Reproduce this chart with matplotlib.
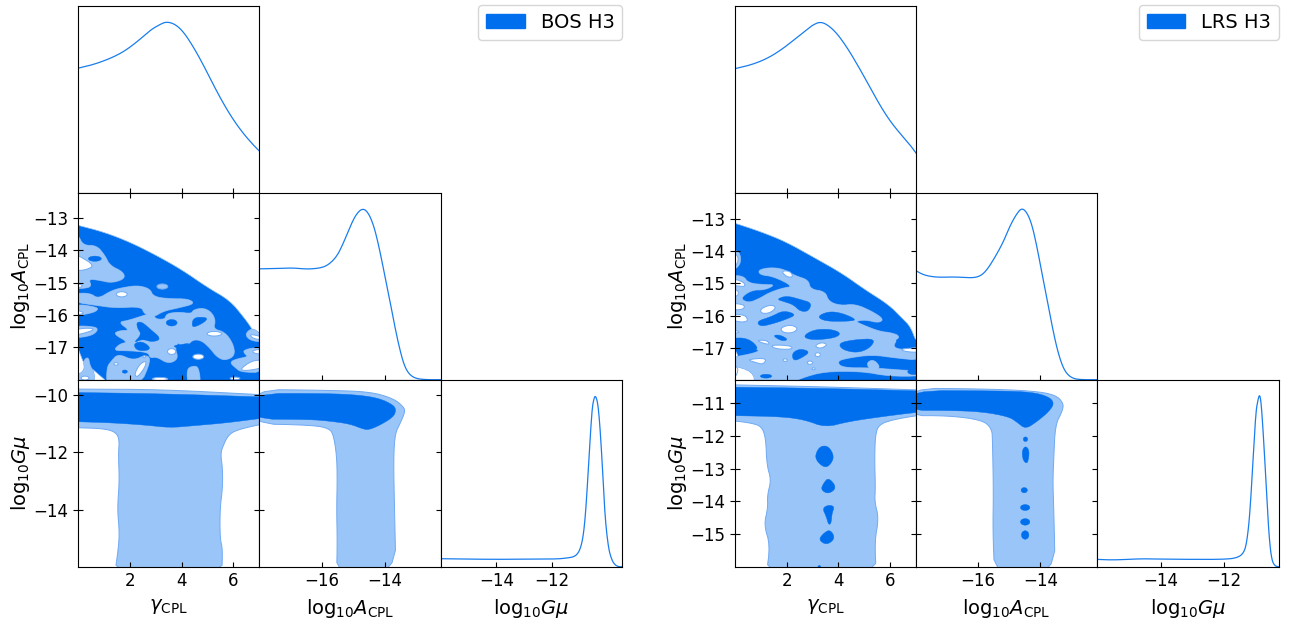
import numpy as np
import matplotlib
matplotlib.use("Agg")
import matplotlib.pyplot as plt
from matplotlib.patches import Ellipse, Patch

DARK = "#006FED"
LIGHT = "#99C5F8"
EDGE = "#6FAAF3"

# axis limits and ticks
gamma_lim = (0, 7)
gamma_ticks = [2, 4, 6]
logA_ticks_x = [-16, -14]
logA_ticks_y = [-17, -16, -15, -14, -13]
bos_logA_lim = (-18, -12.22)
lrs_logA_lim = (-18, -12.17)
bos_logG_lim = (-16, -9.46)
lrs_logG_lim = (-16, -10.28)
logG_ticks_x = [-14, -12]
bos_logG_ticks_y = [-14, -12, -10]
lrs_logG_ticks_y = [-15, -14, -13, -12, -11]

# 1D marginals, BOS
bos_gamma_x = [0, .59, 1.24, 1.75, 2.27, 2.78, 3.17, 3.42, 3.75, 4.07, 4.45, 4.84, 5.23, 5.61, 6.0, 6.38, 6.77, 7]
bos_gamma_p = [.732, .753, .789, .828, .886, .955, .99, 1.005, .99, .945, .857, .75, .632, .524, .427, .348, .28, .245]
bos_logA_x = [-18, -17.45, -16.92, -16.5, -16.07, -15.81, -15.54, -15.33, -15.12, -14.91, -14.7, -14.51, -14.33,
              -14.17, -14.01, -13.85, -13.69, -13.53, -13.38, -13.22, -13.01, -12.69, -12.22]
bos_logA_p = [.652, .654, .658, .65, .656, .674, .723, .801, .898, .977, 1.01, .977, .889, .762, .615, .469, .313,
              .176, .078, .029, .006, 0, 0]
bos_logG_x = [-16, -15.19, -13.99, -12.79, -11.82, -11.46, -11.16, -10.98, -10.86, -10.77, -10.67, -10.56, -10.5,
              -10.43, -10.34, -10.26, -10.16, -10.08, -9.96, -9.84, -9.72, -9.6, -9.46]
bos_logG_p = [.047, .045, .043, .045, .045, .051, .059, .098, .186, .343, .618, .912, .98, 1.01, .961, .814, .539,
              .284, .108, .039, .01, 0, 0]

# 1D marginals, LRS
lrs_gamma_x = [0, .6, 1.2, 1.75, 2.3, 2.8, 3.0, 3.3, 3.6, 3.95, 4.35, 4.8, 5.2, 5.6, 6.0, 6.4, 6.8, 7]
lrs_gamma_p = [.729, .75, .785, .835, .9, .96, .985, 1.005, .985, .935, .85, .735, .625, .515, .42, .345, .275, .233]
lrs_logA_x = [-18, -17.81, -17.59, -17.27, -16.74, -16.2, -15.93, -15.72, -15.45, -15.19, -14.97, -14.76, -14.6,
              -14.44, -14.28, -14.12, -13.96, -13.79, -13.63, -13.47, -13.31, -13.15, -12.94, -12.67, -12.17]
lrs_logA_p = [.641, .621, .609, .602, .605, .598, .609, .645, .723, .811, .908, .977, 1.01, .986, .918, .791, .635,
              .479, .322, .186, .088, .033, .006, 0, 0]
lrs_logG_x = [-16, -15.48, -14.64, -14.12, -13.07, -12.02, -11.6, -11.39, -11.29, -11.19, -11.08, -11.0, -10.93,
              -10.88, -10.83, -10.75, -10.66, -10.58, -10.5, -10.4, -10.28]
lrs_logG_p = [.043, .039, .047, .045, .043, .043, .051, .078, .137, .304, .657, .912, .986, 1.015, .961, .735, .422,
              .167, .039, .004, 0]

# BOS gamma - logA contours
bos_ga_outer = [(-.3, -13.17), (0, -13.23), (1, -13.44), (2, -13.75), (3, -14.15), (4, -14.6), (5, -15.15),
                (5.86, -15.55), (6.4, -16.07), (6.7, -16.4), (7, -16.85), (7.3, -17.2), (7.3, -18.4), (-.3, -18.4)]
bos_ga_light = [
    [(-.2, -13.5), (0, -13.54), (.19, -13.85), (.71, -13.85), (1.03, -14.16), (1.22, -14.47), (1.74, -14.67),
     (1.8, -14.88), (1.29, -15.01), (.84, -14.93), (.39, -14.88), (.52, -15.12), (.2, -15.18), (-.2, -15.18)],
    [(.45, -15.32), (.77, -15.5), (1.29, -15.24), (1.8, -15.14), (2.32, -15.09), (2.77, -15.19), (2.9, -15.43),
     (3.48, -15.5), (4.25, -15.5), (4.51, -15.65), (3.87, -15.78), (3.29, -15.88), (2.9, -16.07), (2.54, -15.96),
     (2.45, -15.74), (1.42, -15.78), (.77, -15.71), (-.2, -15.6), (-.2, -15.34)],
    [(1.93, -16.17), (2.51, -16.02), (2.96, -15.91), (2.94, -16.12), (3.35, -16.14), (3.41, -15.96), (3.87, -15.91),
     (4.38, -15.96), (4.45, -15.84), (4.83, -15.78), (5.15, -15.91), (5.31, -16.17), (5.22, -16.43), (5.67, -16.53),
     (5.99, -16.89), (6.06, -17.26), (5.67, -17.41), (5.35, -17.29), (5.09, -17.02), (4.77, -16.79), (4.45, -16.76),
     (4.25, -16.91), (3.93, -16.95), (3.87, -16.84), (3.74, -17.02), (3.87, -17.36), (3.48, -17.51), (3.03, -17.29),
     (2.77, -17.33), (2.71, -17.15), (1.93, -17.1), (1.35, -17.1), (1.61, -16.89), (1.93, -16.84), (1.35, -16.58),
     (1.61, -16.48), (2.0, -16.48), (1.55, -16.22)],
    [(-.2, -15.65), (.77, -15.76), (.71, -15.88), (.39, -15.96), (-.2, -16.04)],
    [(-.2, -16.33), (.64, -16.36), (.77, -16.46), (.52, -16.64), (-.2, -16.72)],
    [(1.1, -17.62), (1.29, -17.41), (1.55, -17.2), (2.13, -17.41), (2.64, -17.22), (2.81, -17.41), (2.38, -18.2), (1.1, -18.2)],
    [(.19, -17.41), (.39, -17.29), (.45, -17.57), (.64, -17.82), (.58, -18.2), (.13, -18.2), (-.2, -17.93), (.26, -17.72)],
    [(4.25, -18.2), (4.19, -17.67), (4.45, -17.57), (4.66, -17.62), (4.74, -18.2)],
    [(6.38, -17.1), (6.7, -17.02), (7.2, -17.02), (7.2, -17.77), (6.31, -17.77), (6.06, -17.62), (5.86, -17.46),
     (6.12, -17.36), (6.57, -17.29), (6.44, -17.2)],
    [(6.44, -16.58), (6.77, -16.38), (7.2, -16.74), (7.2, -16.84), (6.64, -16.79)],
    [(2.9, -17.93), (3.35, -17.93), (3.61, -18.2), (2.9, -18.2)],
    [(5.9, -18.2), (6.06, -17.93), (6.3, -18.2)],
]
bos_ga_dark = [
    [(2.26, -16.22), (2.47, -16.22), (2.77, -16.43), (3.22, -16.74), (2.86, -16.84), (2.47, -16.74), (2.13, -16.87),
     (2.45, -16.6), (2.28, -16.4)],
    [(2.13, -16.89), (2.45, -16.81), (2.77, -16.98), (2.71, -17.1), (2.26, -17.1)],
    [(4.38, -16.38), (4.45, -16.07), (4.96, -16.07), (4.96, -16.17), (4.64, -16.33)],
    [(3.67, -16.95), (3.99, -16.91), (4.32, -16.87), (4.12, -16.98), (3.8, -17.02)],
]
bos_ga_white = [
    [(-.2, -14.1), (0, -14.16), (.64, -14.47), (.26, -14.62), (-.2, -14.62)],
    [(-.2, -15.81), (.19, -15.91), (.19, -15.96), (-.2, -16.02)],
    [(-.2, -16.46), (.32, -16.4), (.64, -16.43), (.39, -16.53), (-.2, -16.64)],
    [(2.16, -17.84), (2.38, -17.51), (2.64, -17.41), (2.58, -17.62), (2.29, -17.93)],
    [(6.22, -17.7), (6.7, -17.41), (7.2, -17.39), (7.2, -17.62), (6.57, -17.72)],
    [(6.7, -17.1), (7.2, -17.04), (7.2, -17.2), (6.83, -17.2)],
    [(6.6, -16.58), (7.2, -16.69), (7.2, -16.77), (6.77, -16.74)],
]
# small round islands: centre x, centre y, half width, half height
bos_ga_light_dots = [(3.25, -15.12, .21, .08)]
bos_ga_dark_dots = [(3.61, -16.24, .21, .1), (.64, -14.26, .25, .08), (1.8, -17.75, .1, .05)]
bos_ga_white_dots = [(0, -15.1, .15, .05), (1.68, -15.36, .21, .08), (5.26, -16.58, .28, .07), (3.61, -17.13, .16, .09),
                     (4.64, -17.29, .21, .08), (2.55, -17.29, .05, .03), (1.46, -17.51, .08, .04), (.26, -17.95, .15, .06),
                     (3.16, -17.98, .3, .05), (6.06, -17.96, .19, .04)]

# LRS gamma - logA contours
lrs_ga_outer = [(-.3, -13.06), (0, -13.12), (.97, -13.38), (1.94, -13.69), (3.1, -14.21), (4.13, -14.68), (5.04, -15.2),
                (5.94, -15.66), (6.46, -16.08), (6.78, -16.34), (7, -16.8), (7.3, -17.2), (7.3, -18.4), (-.3, -18.4)]
lrs_ga_light = [
    [(.9, -14.58), (1.36, -14.5), (1.87, -14.55), (2.33, -14.76), (2.84, -14.89), (2.91, -15.18), (3.49, -15.25),
     (3.62, -15.56), (4.07, -15.69), (4.65, -15.64), (5.3, -15.87), (5.75, -16.11), (5.56, -16.23), (5.04, -16.13),
     (4.65, -16.18), (4.91, -16.28), (5.56, -16.49), (6.07, -16.54), (6.4, -16.65), (6.07, -16.96), (6.46, -17.08),
     (7.2, -16.96), (7.2, -17.4), (6.2, -17.32), (5.3, -17.22), (4.39, -17.32), (3.94, -17.42), (4.13, -17.63),
     (5.3, -17.63), (6.07, -17.68), (7.2, -17.74), (7.2, -17.89), (5.94, -17.89), (4.91, -17.74), (3.49, -17.74),
     (2.58, -17.94), (1.94, -18.2), (.78, -18.2), (.71, -17.74), (-.2, -17.53), (-.2, -17.32), (.78, -17.17),
     (.97, -17.06), (.39, -17.01), (-.2, -16.96), (-.2, -14.76), (.32, -14.76), (.52, -14.99), (1.16, -15.04),
     (1.55, -15.04), (1.16, -15.2), (.65, -15.2), (.19, -15.46), (.52, -15.61), (.97, -15.46), (1.29, -15.3),
     (1.81, -15.15), (2.26, -15.09), (1.49, -14.78), (.97, -14.73)],
    [(5.1, -17.46), (5.36, -17.37), (5.62, -17.6), (5.43, -17.7), (5.17, -17.65)],
    [(-.2, -13.95), (.19, -14.0), (.23, -14.42), (-.2, -14.65)],
]
lrs_ga_dark = [
    [(1.61, -15.49), (2.0, -15.38), (2.58, -15.51), (2.97, -15.61), (2.84, -15.87), (2.52, -15.87), (2.26, -15.66), (1.87, -15.56)],
    [(.84, -16.18), (1.42, -16.03), (1.87, -15.84), (2.39, -15.97), (1.94, -16.13), (1.36, -16.28), (.97, -16.34)],
    [(3.17, -16.03), (3.62, -15.87), (4.13, -15.92), (4.72, -16.13), (4.39, -16.18), (3.49, -16.18)],
    [(2.61, -16.65), (3.04, -16.44), (3.68, -16.42), (4.11, -16.54), (3.88, -16.7), (2.97, -16.77)],
    [(1.45, -16.62), (1.74, -16.6), (2.07, -16.75), (1.81, -16.8)],
    [(4.01, -16.85), (4.65, -16.75), (5.43, -16.72), (5.23, -17.01), (4.72, -17.17), (4.13, -17.06)],
    [(6.14, -16.75), (6.72, -16.65), (7.2, -16.85), (6.46, -16.96)],
    [(2.2, -17.17), (2.52, -17.03), (2.91, -17.13), (2.58, -17.32), (2.26, -17.42)],
    [(-.2, -16.7), (.52, -16.7), (.97, -17.06), (.39, -17.13), (-.2, -17.1)],
    [(6.65, -17.69), (7.2, -17.63), (7.2, -17.84), (6.72, -17.84)],
]
lrs_ga_white = [
    [(-.2, -14.05), (.13, -14.11), (.1, -14.42), (-.2, -14.47)],
    [(1.78, -14.61), (2.13, -14.61), (2.26, -14.8), (2.0, -14.8)],
    [(-.2, -14.83), (.32, -14.94), (.41, -15.09), (.19, -15.09), (-.2, -15.04)],
    [(-.2, -15.61), (.39, -15.66), (.32, -15.82), (-.2, -15.82)],
    [(.97, -15.8), (1.36, -15.66), (1.61, -15.74), (1.36, -15.92), (1.03, -15.94)],
    [(-.2, -15.97), (.39, -15.97), (.52, -16.18), (.19, -16.21), (-.2, -16.11)],
    [(-.2, -16.39), (.26, -16.54), (-.2, -16.54)],
    [(1.74, -16.39), (2.13, -16.28), (2.45, -16.39), (2.26, -16.54), (1.87, -16.54)],
    [(.84, -16.77), (1.23, -16.77), (1.36, -16.91), (1.03, -16.85)],
    [(1.36, -16.91), (2.2, -16.94), (2.2, -17.06), (1.55, -17.04)],
    [(3.07, -16.94), (3.36, -16.83), (3.59, -16.91), (3.29, -17.04)],
    [(.45, -17.37), (1.23, -17.32), (1.1, -17.53), (.78, -17.46)],
    [(6.37, -17.04), (7.2, -17.0), (7.2, -17.15), (6.59, -17.13)],
    [(-.2, -17.63), (.13, -17.58), (.07, -17.89), (-.2, -17.94)],
]
lrs_ga_light_dots = []
lrs_ga_dark_dots = [(6.2, -17.45, .26, .09), (1.2, -17.89, .22, .06)]
lrs_ga_white_dots = [(0, -15.3, .13, .1), (1.94, -17.39, .08, .04), (3.2, -17.22, .1, .06), (2.9, -17.47, .1, .05),
                     (3.04, -17.66, .06, .03)]

# BOS logG contours
bos_gg_light = [(-.3, -9.78), (0, -9.79), (3.16, -9.8), (7, -9.98), (7.3, -10.0), (7.3, -11.0), (7, -11.03), (6.12, -11.22),
                (5.8, -11.4), (5.61, -11.75), (5.5, -12.04), (5.58, -12.56), (5.58, -13.26), (5.48, -13.96), (5.48, -15.01),
                (5.58, -15.36), (5.55, -16.3), (1.4, -16.3), (1.55, -15.36), (1.59, -14.78), (1.51, -13.96), (1.59, -13.03),
                (1.55, -12.1), (1.59, -11.52), (1.42, -11.28), (.97, -11.17), (0, -11.14), (-.3, -11.14)]
bos_gg_dark = [(-.3, -9.9), (0, -9.91), (3.16, -9.95), (7, -10.06), (7.3, -10.07), (7.3, -10.8), (7, -10.82), (5.73, -10.97),
               (4.45, -11.07), (3.54, -11.14), (2.64, -11.05), (1.35, -10.97), (0, -10.93), (-.3, -10.93)]
bos_ag_light = [(-18.3, -9.8), (-15.86, -9.83), (-14.48, -9.88), (-13.73, -10.12), (-13.41, -10.41), (-13.36, -10.58),
                (-13.52, -10.99), (-13.68, -11.34), (-13.73, -12.21), (-13.7, -13.96), (-13.65, -16.3), (-15.54, -16.3),
                (-15.52, -15.13), (-15.54, -13.96), (-15.52, -12.91), (-15.54, -12.1), (-15.64, -11.4), (-15.77, -11.17),
                (-16.28, -11.05), (-18.3, -11.0)]
bos_ag_dark = [(-18.3, -9.94), (-15.86, -9.94), (-14.79, -10.0), (-14.16, -10.12), (-13.73, -10.35), (-13.65, -10.52),
               (-13.73, -10.76), (-14.16, -11.05), (-14.53, -11.22), (-14.74, -11.17), (-15.11, -11.01), (-15.75, -10.91),
               (-16.39, -10.85), (-18.3, -10.84)]

# LRS logG contours
lrs_gg_light = [(-.3, -10.43), (0, -10.44), (3.1, -10.49), (7, -10.59), (7.3, -10.6), (7.3, -11.37), (7, -11.38), (6.07, -11.51),
                (5.56, -11.66), (5.43, -11.97), (5.4, -12.68), (5.43, -13.6), (5.4, -14.01), (5.56, -14.52), (5.4, -15.23),
                (5.47, -16.3), (1.2, -16.3), (1.36, -15.34), (1.12, -14.72), (1.27, -14.21), (1.25, -13.81), (1.4, -13.35),
                (1.23, -12.89), (1.19, -12.07), (1.03, -11.71), (.65, -11.61), (0, -11.54), (-.3, -11.54)]
lrs_gg_dark = [(-.3, -10.5), (0, -10.51), (3.1, -10.54), (7, -10.62), (7.3, -10.63), (7.3, -11.27), (7, -11.28), (5.68, -11.41),
               (4.39, -11.56), (3.49, -11.74), (2.71, -11.51), (1.81, -11.41), (0, -11.38), (-.3, -11.38)]
lrs_gg_blobs = [
    [(3.29, -12.31), (3.62, -12.31), (3.84, -12.63), (3.68, -12.89), (3.46, -12.97), (3.17, -12.78), (3.1, -12.58)],
    [(3.62, -13.27), (3.94, -13.58), (3.62, -13.78), (3.32, -13.65), (3.42, -13.45)],
    [(3.38, -14.21), (3.62, -14.11), (3.85, -14.16), (3.75, -14.37), (3.72, -14.67), (3.62, -14.72), (3.53, -14.47)],
    [(3.68, -14.86), (3.88, -15.13), (3.55, -15.34), (3.23, -15.18), (3.42, -14.98)],
    [(3.17, -16.05), (3.26, -15.93), (3.36, -16.05)],
]
lrs_ag_light = [(-18.3, -10.54), (-15.88, -10.56), (-14.27, -10.62), (-13.52, -10.74), (-13.25, -11.0), (-13.3, -11.26),
                (-13.52, -11.66), (-13.57, -12.68), (-13.6, -13.4), (-13.57, -14.21), (-13.52, -16.3), (-15.47, -16.3),
                (-15.53, -14.93), (-15.51, -13.7), (-15.54, -12.17), (-15.56, -11.77), (-15.88, -11.51), (-16.96, -11.38),
                (-18.3, -11.38)]
lrs_ag_dark = [(-18.3, -10.61), (-15.34, -10.62), (-14.27, -10.66), (-13.73, -10.8), (-13.55, -11.0), (-13.73, -11.26),
               (-14.11, -11.56), (-14.48, -11.79), (-14.75, -11.58), (-15.02, -11.41), (-15.88, -11.26), (-16.96, -11.22),
               (-18.3, -11.22)]
lrs_ag_blob = [(-14.48, -12.3), (-14.35, -12.45), (-14.4, -12.81), (-14.48, -12.83), (-14.57, -12.7), (-14.59, -12.45)]
lrs_ag_dots = [(-14.48, -12.1, .07, .07), (-14.52, -13.66, .1, .08), (-14.49, -14.19, .15, .09),
               (-14.49, -14.63, .15, .1), (-14.49, -15.03, .12, .13)]

gamma_label = r"$\gamma_{\rm CPL}$"
logA_label = r"$\mathrm{log}_{10}A_{\rm CPL}$"
logG_label = r"$\mathrm{log}_{10}G\mu$"

W, H = 1289, 628
row_edges = [5.5, 192.7, 379.7, 566.7]
bos_cols = [78.3, 259.3, 441, 622.3]
lrs_cols = [735, 916, 1097.3, 1278.7]

fig = plt.figure(figsize=(W / 100, H / 100), dpi=100)


def smooth(pts, n=2):
    # corner cutting so the read outlines come out rounded like contours
    p = np.array(pts, dtype=float)
    for _ in range(n):
        q = np.roll(p, -1, axis=0)
        p = np.column_stack([.75 * p + .25 * q, .25 * p + .75 * q]).reshape(-1, 2)
    return p


def smooth_line(x, y, n=3):
    # same corner cutting for an open curve, end points stay put
    p = np.column_stack([x, y]).astype(float)
    for _ in range(n):
        a, b = p[:-1], p[1:]
        mid = np.column_stack([.75 * a + .25 * b, .25 * a + .75 * b]).reshape(-1, 2)
        p = np.vstack([p[:1], mid, p[-1:]])
    return p[:, 0], p[:, 1]


def add_axes(cols, i, j):
    ax = fig.add_axes([cols[j] / W, 1 - row_edges[i + 1] / H,
                       (cols[j + 1] - cols[j]) / W, (row_edges[i + 1] - row_edges[i]) / H])
    ax.tick_params(left=False, bottom=False, labelleft=False, labelbottom=False, labelsize=12)
    return ax


def poly(ax, pts, face, edge, lw=.7):
    p = smooth(pts)
    ax.fill(p[:, 0], p[:, 1], facecolor=face, edgecolor=edge, linewidth=lw)


def dots(ax, items, face, edge, lw=.7):
    for cx, cy, rx, ry in items:
        ax.add_patch(Ellipse((cx, cy), 2 * rx, 2 * ry, facecolor=face, edgecolor=edge, linewidth=lw))


def curve(ax, x, p, lim):
    sx, sp = smooth_line(x, p)
    ax.plot(sx, sp, color=DARK, lw=.9, alpha=.9)
    ax.set_xlim(lim)
    ax.set_ylim(0, 1.1)
    ax.set_yticks([])


def triangle(cols, name, a_lim, g_lim, g_ticks, marg, ga, gg, ag, extra=None):
    # top row
    ax = add_axes(cols, 0, 0)
    curve(ax, marg[0], marg[1], gamma_lim)
    ax.set_xticks(gamma_ticks)
    ax.tick_params(axis="x", bottom=True, direction="in")

    # gamma - logA
    ax = add_axes(cols, 1, 0)
    outer, light, dark, white, light_d, dark_d, white_d = ga
    poly(ax, outer, DARK, LIGHT, .5)
    for pts in light:
        poly(ax, pts, LIGHT, EDGE)
    # second pass hides the outlines where the light pieces overlap
    for pts in light:
        poly(ax, pts, LIGHT, "none", 0)
    dots(ax, light_d, LIGHT, EDGE)
    for pts in dark:
        poly(ax, pts, DARK, DARK, .3)
    dots(ax, dark_d, DARK, DARK, .3)
    for pts in white:
        poly(ax, pts, "white", EDGE)
    dots(ax, white_d, "white", EDGE)
    ax.set_xlim(gamma_lim)
    ax.set_ylim(a_lim)
    ax.set_xticks(gamma_ticks)
    ax.set_yticks(logA_ticks_y)
    ax.tick_params(axis="x", bottom=True, top=True, direction="in")
    ax.tick_params(axis="y", right=True, direction="in")
    ax.tick_params(axis="y", left=True, labelleft=True, direction="inout", length=7)
    ax.set_ylabel(logA_label, fontsize=14, labelpad=1)

    # logA marginal
    ax = add_axes(cols, 1, 1)
    curve(ax, marg[2], marg[3], a_lim)
    ax.set_xticks(logA_ticks_x)
    ax.tick_params(axis="x", bottom=True, direction="in")

    # gamma - logG
    ax = add_axes(cols, 2, 0)
    poly(ax, gg[0], LIGHT, EDGE)
    poly(ax, gg[1], DARK, DARK, .3)
    if extra:
        for pts in extra[0]:
            poly(ax, pts, DARK, DARK, .3)
    ax.set_xlim(gamma_lim)
    ax.set_ylim(g_lim)
    ax.set_xticks(gamma_ticks)
    ax.set_yticks(g_ticks)
    ax.tick_params(axis="x", bottom=True, labelbottom=True, direction="in")
    ax.tick_params(axis="y", right=True, direction="in")
    ax.tick_params(axis="y", left=True, labelleft=True, direction="inout", length=7)
    ax.set_xlabel(gamma_label, fontsize=14, labelpad=5)
    ax.set_ylabel(logG_label, fontsize=14, labelpad=1)

    # logA - logG
    ax = add_axes(cols, 2, 1)
    poly(ax, ag[0], LIGHT, EDGE)
    poly(ax, ag[1], DARK, DARK, .3)
    if extra:
        poly(ax, extra[1], DARK, DARK, .3)
        dots(ax, extra[2], DARK, DARK, .3)
    ax.set_xlim(a_lim)
    ax.set_ylim(g_lim)
    ax.set_xticks(logA_ticks_x)
    ax.set_yticks(g_ticks)
    ax.tick_params(axis="x", bottom=True, labelbottom=True, direction="in")
    ax.tick_params(axis="y", left=True, right=True, direction="in")
    ax.set_xlabel(logA_label, fontsize=14, labelpad=5)

    # logG marginal
    ax = add_axes(cols, 2, 2)
    curve(ax, marg[4], marg[5], g_lim)
    ax.set_xticks(logG_ticks_x)
    ax.tick_params(axis="x", bottom=True, labelbottom=True, direction="in")
    ax.set_xlabel(logG_label, fontsize=14, labelpad=5)

    fig.legend(handles=[Patch(color=DARK, label=name)], fontsize=14, loc="upper right",
               bbox_to_anchor=(cols[3] / W, 1 - 5.0 / H), borderaxespad=0)


triangle(bos_cols, "BOS H3", bos_logA_lim, bos_logG_lim, bos_logG_ticks_y,
         (bos_gamma_x, bos_gamma_p, bos_logA_x, bos_logA_p, bos_logG_x, bos_logG_p),
         (bos_ga_outer, bos_ga_light, bos_ga_dark, bos_ga_white, bos_ga_light_dots, bos_ga_dark_dots, bos_ga_white_dots),
         (bos_gg_light, bos_gg_dark), (bos_ag_light, bos_ag_dark))
triangle(lrs_cols, "LRS H3", lrs_logA_lim, lrs_logG_lim, lrs_logG_ticks_y,
         (lrs_gamma_x, lrs_gamma_p, lrs_logA_x, lrs_logA_p, lrs_logG_x, lrs_logG_p),
         (lrs_ga_outer, lrs_ga_light, lrs_ga_dark, lrs_ga_white, lrs_ga_light_dots, lrs_ga_dark_dots, lrs_ga_white_dots),
         (lrs_gg_light, lrs_gg_dark), (lrs_ag_light, lrs_ag_dark),
         extra=(lrs_gg_blobs, lrs_ag_blob, lrs_ag_dots))

fig.savefig("out.png", dpi=100)
